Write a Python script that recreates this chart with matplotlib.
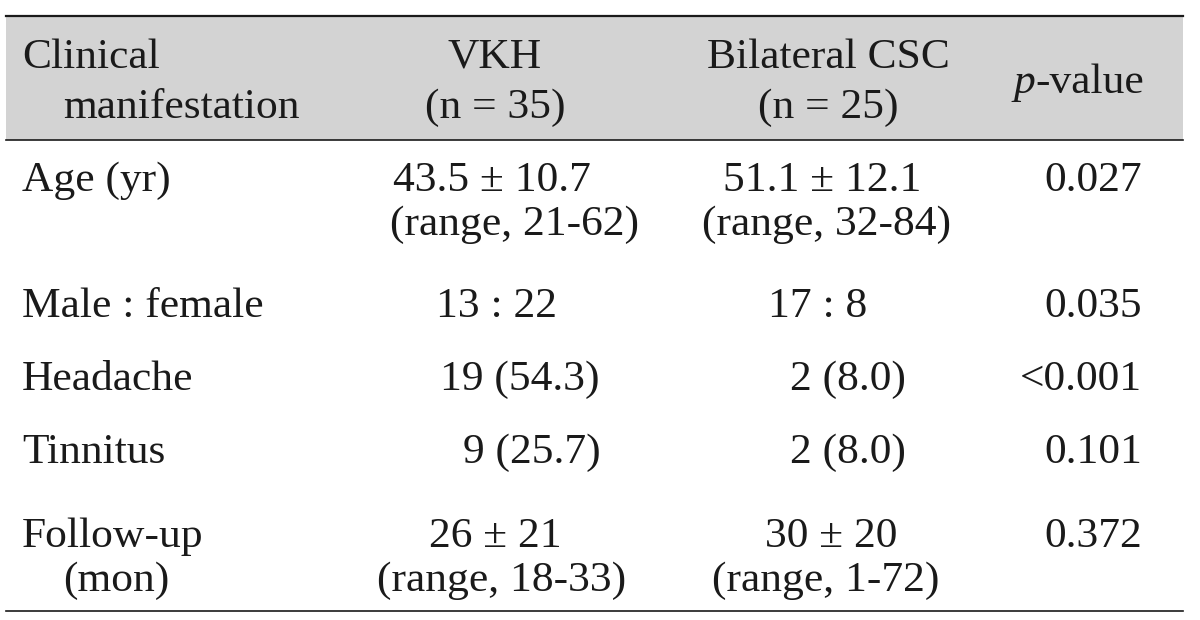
import matplotlib.pyplot as plt
from matplotlib.patches import Rectangle

# table content
header_lines = [["Clinical", "manifestation"], ["VKH", "(n = 35)"],
                ["Bilateral CSC", "(n = 25)"]]
row_labels = [["Age (yr)"], ["Male : female"], ["Headache"], ["Tinnitus"],
              ["Follow-up", "(mon)"]]
vkh = [["43.5 ± 10.7", "(range, 21-62)"], ["13 : 22"], ["19 (54.3)"],
       ["9 (25.7)"], ["26 ± 21", "(range, 18-33)"]]
csc = [["51.1 ± 12.1", "(range, 32-84)"], ["17 : 8"], ["2 (8.0)"],
       ["2 (8.0)"], ["30 ± 20", "(range, 1-72)"]]
p_values = ["0.027", "0.035", "<0.001", "0.101", "0.372"]

# layout (pixels, y from top)
W, H = 1200, 620
FS = 31.3
FONT = "Liberation Serif"
row_base = [191, 317, 390, 463, 547]
line_gap = 44
label_x = [[22], [22], [22], [22], [22, 63]]
vkh_x = [[492, 515], [497], [520], [532], [495, 502]]
csc_x = [[822, 826], [818], [848], [848], [831, 826]]
p_right = 1142

fig = plt.figure(figsize=(W / 100, H / 100), dpi=100)
ax = fig.add_axes([0, 0, 1, 1])
ax.set_xlim(0, W)
ax.set_ylim(H, 0)
ax.axis("off")

# header band and rules
ax.add_patch(Rectangle((6, 16), 1177, 124, facecolor="#d3d3d3", edgecolor="none"))
ax.plot([6, 1183], [16, 16], color="#1a1a1a", lw=1.6)
ax.plot([6, 1183], [140, 140], color="#1a1a1a", lw=1.2)
ax.plot([6, 1183], [611, 611], color="#1a1a1a", lw=1.2)

txt = dict(fontsize=FS, family=FONT, va="baseline", color="#1a1a1a")

# header
ax.text(22, 68, header_lines[0][0], ha="left", **txt)
ax.text(63, 118, header_lines[0][1], ha="left", **txt)
for col, cx in zip(header_lines[1:], [495, 828]):
    ax.text(cx, 68, col[0], ha="center", **txt)
    ax.text(cx, 118, col[1], ha="center", **txt)
ax.text(1035, 93, "p", ha="right", style="italic", **txt)
ax.text(1035, 93, "-value", ha="left", **txt)

# body
for i, base in enumerate(row_base):
    for j, line in enumerate(row_labels[i]):
        ax.text(label_x[i][j], base + j * line_gap, line, ha="left", **txt)
    for j, line in enumerate(vkh[i]):
        ax.text(vkh_x[i][j], base + j * line_gap, line, ha="center", **txt)
    for j, line in enumerate(csc[i]):
        ax.text(csc_x[i][j], base + j * line_gap, line, ha="center", **txt)
    ax.text(p_right, base, p_values[i], ha="right", **txt)

fig.savefig("out.png", dpi=100, facecolor="white")
